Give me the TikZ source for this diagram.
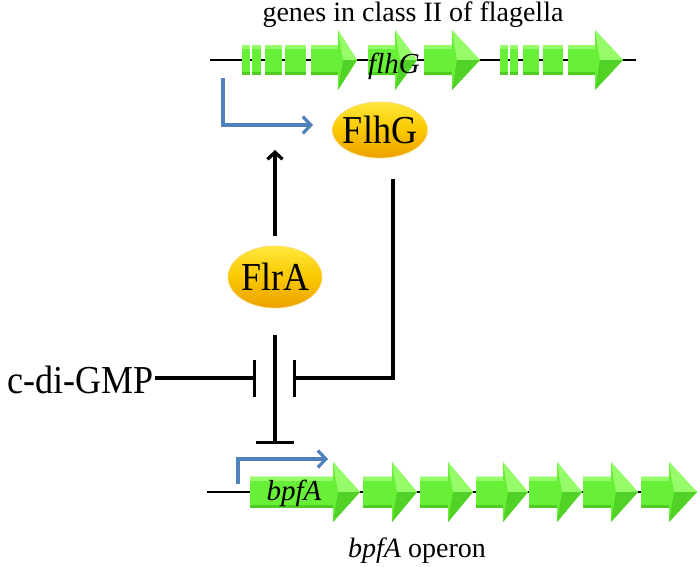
\documentclass[tikz,border=0pt]{standalone}
\usepackage{fontspec}
\setmainfont{Liberation Serif}
\usetikzlibrary{arrows.meta,shapes.geometric}
\definecolor{gmain}{RGB}{104,240,56}
\definecolor{glight}{RGB}{150,252,105}
\definecolor{gdark}{RGB}{78,205,35}
\definecolor{pblue}{RGB}{79,129,189}
\definecolor{gtop}{RGB}{255,232,60}
\definecolor{gbot}{RGB}{236,160,0}
\tikzset{
  prot/.style={ellipse, inner sep=0pt, top color=gtop, bottom color=gbot, middle color={rgb,255:red,250;green,200;blue,0},
    draw={rgb,255:red,250;green,215;blue,110}, line width=0.6pt},
  bigtxt/.style={font=\fontsize{36}{40}\selectfont},
  lbl/.style={font=\fontsize{28}{32}\selectfont, inner sep=0pt},
  gname/.style={font=\fontsize{29}{32}\selectfont\itshape, inner sep=0pt},
  dnaline/.style={draw=black, line width=1.2pt},
  promoter/.style={draw=pblue, line width=3.2pt, -{Straight Barb[length=8pt,width=17pt]}},
  act/.style={draw=black, line width=3.3pt, -{Straight Barb[length=7pt,width=15pt]}},
  inh/.style={draw=black, line width=3.3pt, -{Rectangle[length=3.4pt,width=37pt]}},
  inhb/.style={draw=black, line width=3.3pt, -{Rectangle[length=3.4pt,width=38pt]}},
}
\newcommand\gbox[4]{%
  \fill[gmain] (#1,#3-#4) rectangle (#2,#3+#4);
  \fill[glight] (#1,#3-#4) rectangle (#2,#3-#4+4);
  \fill[gdark] (#1,#3+#4-3) rectangle (#2,#3+#4);
}
\newcommand\garrow[6]{%
  \fill[gmain] (#1,#4-#5) -- (#2,#4-#5) -- (#2,#4-#6) -- (#3,#4) -- (#2,#4+#6) -- (#2,#4+#5) -- (#1,#4+#5) -- cycle;
  \fill[glight] (#1,#4-#5) rectangle (#2,#4-#5+4);
  \fill[gdark] (#1,#4+#5-3) rectangle (#2,#4+#5);
  \fill[glight] (#2,#4-#6) -- (#3,#4) -- (#2+5,#4) -- cycle;
  \fill[gdark!85!gmain] (#2,#4+#6) -- (#3,#4) -- (#2+5,#4) -- cycle;
}
\begin{document}
\begin{tikzpicture}[x=1pt,y=-1pt]
\useasboundingbox (0,0) rectangle (700,566);
% --- top operon
\node[lbl, anchor=base] (title) at (413,21) {genes in class II of flagella};
\coordinate (tl0) at (210,60);
\coordinate (tl1) at (636,60);
\draw[dnaline] (tl0) -- (tl1);
\gbox{242}{250}{60}{15}
\gbox{252}{261}{60}{15}
\gbox{265}{282}{60}{15}
\gbox{285}{306}{60}{15}
\garrow{311}{338}{357}{60}{15}{30}
\garrow{368}{395}{417}{60}{15}{30}
\garrow{424}{452}{480}{60}{15}{30}
\gbox{500}{508}{60}{15}
\gbox{510}{518}{60}{15}
\gbox{523}{539}{60}{15}
\gbox{543}{563}{60}{15}
\garrow{568}{595}{623}{60}{15}{30}
\node[gname, anchor=base] (flhGgene) at (394,73) {flhG};
% --- bottom operon
\coordinate (bl0) at (207,492);
\coordinate (bl1) at (660,492);
\draw[dnaline] (bl0) -- (bl1);
\garrow{250}{333}{360}{492}{15.5}{30}
\garrow{363}{392}{417}{492}{15.5}{30}
\garrow{420}{448}{473}{492}{15.5}{30}
\garrow{476}{503}{528}{492}{15.5}{30}
\garrow{529}{557}{582}{492}{15.5}{30}
\garrow{583}{611}{638}{492}{15.5}{30}
\garrow{641}{669}{697}{492}{15.5}{30}
\node[gname, anchor=base] (bpfAgene) at (294,500) {bpfA};
\node[lbl, anchor=base] (operon) at (417,557) {\textit{bpfA} operon};
% --- proteins
\node[prot, minimum width=95pt, minimum height=56pt] (flhg) at (380,130) {};
\node[bigtxt] at (flhg) {\scalebox{1}[1.1]{FlhG}};
\node[prot, minimum width=94pt, minimum height=62pt] (flra) at (275,277) {};
\node[bigtxt] at (flra) {\scalebox{1}[1.1]{FlrA}};
\node[bigtxt, anchor=base east, inner sep=0pt] (cdg) at (154,393) {\scalebox{1}[1.1]{c-di-GMP}};
% --- promoters
\coordinate (pt0) at (223,78);
\coordinate (pt1) at (313,125);
\draw[promoter] (pt0) |- (pt1);
\coordinate (pb0) at (238,484);
\coordinate (pb1) at (328,459);
\draw[promoter] (pb0) |- (pb1);
% --- regulation
\coordinate (upend) at (275,150);
\draw[act] ([yshift=10pt]flra.north) -- (upend);
\coordinate (barL) at (256,378);
\coordinate (barR) at (293,378);
\coordinate (barB) at (275,444);
\draw[inh] ([xshift=1pt]cdg.east |- barL) -- (barL);
\draw[inh] ([xshift=13pt,yshift=-21pt]flhg.south) |- (barR);
\draw[inhb] ([yshift=-27pt]flra.south) -- (barB);
\end{tikzpicture}
\end{document}
